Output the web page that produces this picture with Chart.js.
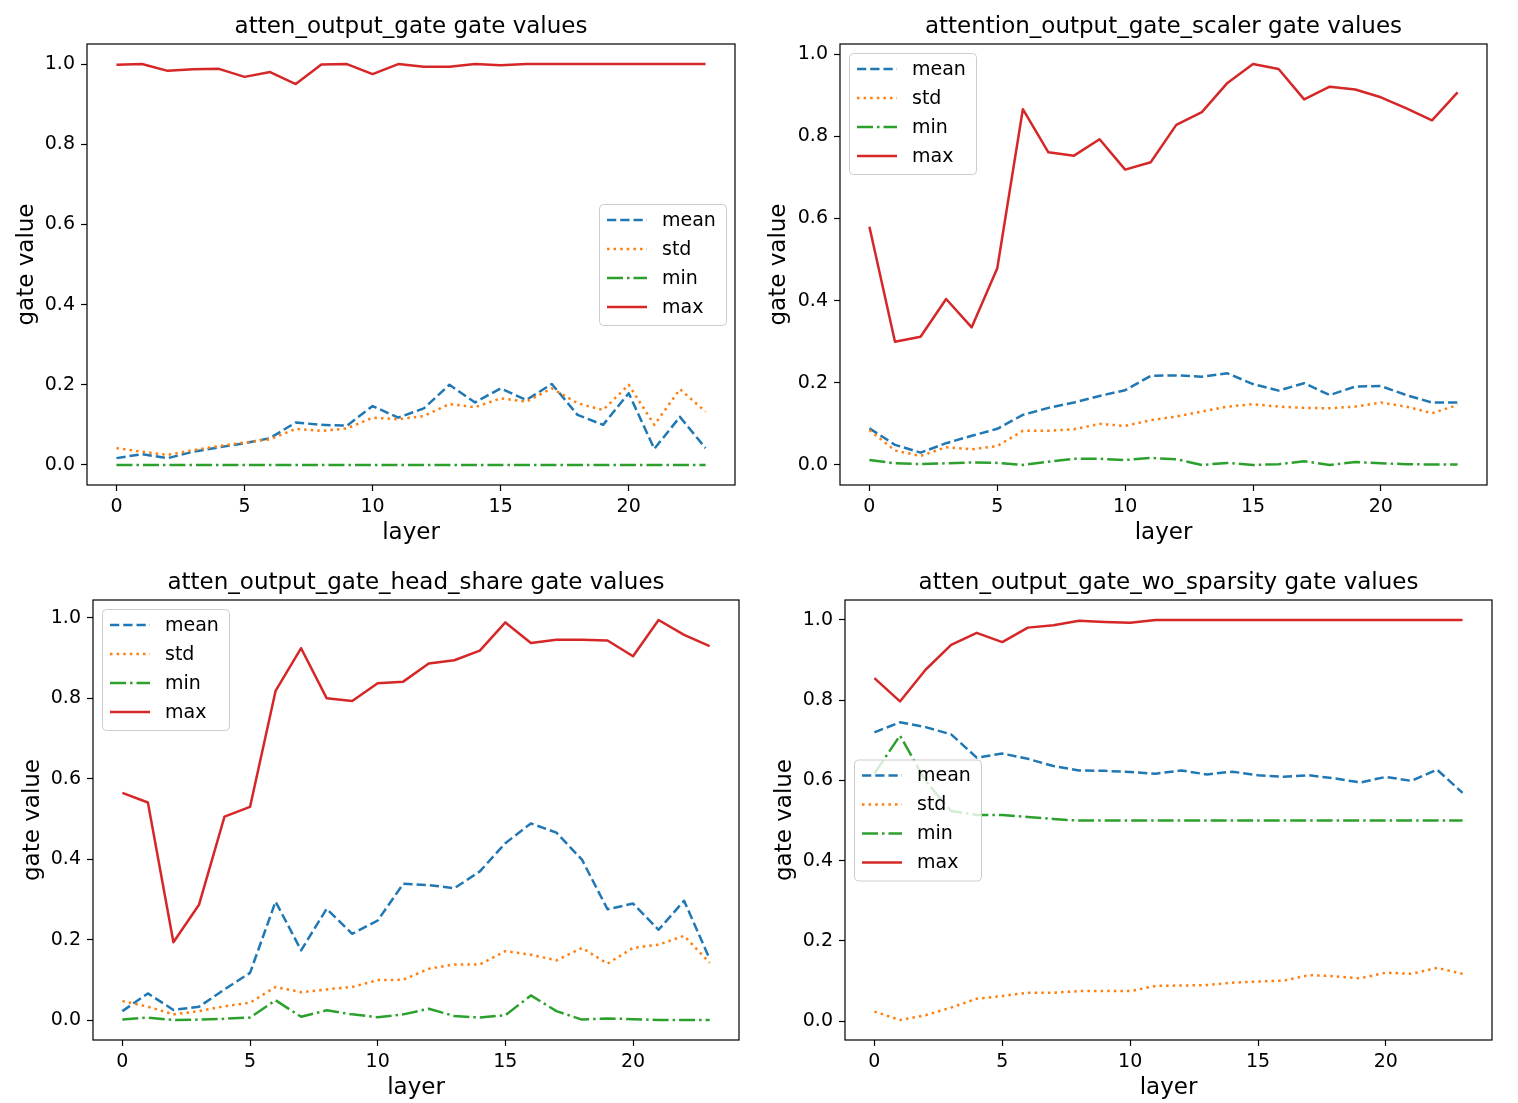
<!DOCTYPE html>
<html><head><meta charset="utf-8">
<script src="https://cdn.jsdelivr.net/npm/chart.js@4.4.0/dist/chart.umd.min.js"></script>
<style>
html,body{margin:0;padding:0;background:#fff;width:1518px;height:1103px;overflow:hidden}
canvas{position:absolute}
</style></head><body>
<canvas id="c1" width="759" height="551" style="left:0px;top:0px"></canvas>
<canvas id="c2" width="759" height="551" style="left:759px;top:0px"></canvas>
<canvas id="c3" width="759" height="552" style="left:0px;top:551px"></canvas>
<canvas id="c4" width="759" height="552" style="left:759px;top:551px"></canvas>
<script>
// ---------- data ----------
const layers = [0,1,2,3,4,5,6,7,8,9,10,11,12,13,14,15,16,17,18,19,20,21,22,23];
const seriesNames = ['mean','std','min','max'];
const xTickValues = [0,5,10,15,20];
const yTickValues = [0,0.2,0.4,0.6,0.8,1.0];

const title1 = 'atten_output_gate gate values';
const mean1 = [0.017,0.027,0.017,0.033,0.044,0.054,0.067,0.106,0.100,0.098,0.147,0.118,0.141,0.200,0.156,0.191,0.162,0.202,0.125,0.100,0.179,0.040,0.120,0.042];
const std1  = [0.042,0.033,0.025,0.037,0.047,0.056,0.064,0.090,0.085,0.091,0.118,0.114,0.122,0.152,0.144,0.166,0.158,0.191,0.154,0.137,0.200,0.100,0.189,0.133];
const min1  = [0,0,0,0,0,0,0,0,0,0,0,0,0,0,0,0,0,0,0,0,0,0,0,0];
const max1  = [0.998,1.0,0.983,0.987,0.988,0.968,0.980,0.950,0.999,1.0,0.975,1.0,0.993,0.993,1.0,0.997,1.0,1.0,1.0,1.0,1.0,1.0,1.0,1.0];

const title2 = 'attention_output_gate_scaler gate values';
const mean2 = [0.089,0.049,0.030,0.053,0.071,0.088,0.122,0.139,0.152,0.168,0.182,0.217,0.218,0.215,0.223,0.197,0.181,0.199,0.170,0.191,0.192,0.170,0.152,0.152];
const std2  = [0.085,0.035,0.022,0.043,0.038,0.046,0.083,0.083,0.087,0.100,0.095,0.109,0.118,0.130,0.142,0.148,0.142,0.139,0.138,0.142,0.152,0.142,0.126,0.146];
const min2  = [0.012,0.004,0.002,0.004,0.006,0.005,0.000,0.008,0.015,0.015,0.012,0.017,0.014,0.000,0.005,0.000,0.002,0.009,0.000,0.007,0.004,0.002,0.001,0.001];
const max2  = [0.580,0.300,0.312,0.404,0.335,0.479,0.866,0.761,0.753,0.793,0.719,0.737,0.828,0.859,0.930,0.976,0.964,0.890,0.921,0.914,0.895,0.868,0.839,0.907];

const title3 = 'atten_output_gate_head_share gate values';
const mean3 = [0.023,0.067,0.026,0.034,0.077,0.118,0.295,0.174,0.277,0.215,0.248,0.339,0.336,0.328,0.370,0.440,0.489,0.466,0.399,0.276,0.290,0.225,0.297,0.153];
const std3  = [0.048,0.034,0.015,0.023,0.035,0.044,0.083,0.070,0.077,0.083,0.100,0.101,0.128,0.139,0.139,0.172,0.163,0.149,0.180,0.141,0.180,0.188,0.210,0.143];
const min3  = [0.002,0.007,0.001,0.002,0.004,0.007,0.050,0.009,0.025,0.015,0.008,0.015,0.029,0.011,0.007,0.013,0.062,0.023,0.002,0.005,0.003,0.001,0.001,0.001];
const max3  = [0.565,0.541,0.194,0.287,0.506,0.530,0.818,0.924,0.800,0.793,0.837,0.841,0.886,0.894,0.918,0.988,0.937,0.945,0.945,0.943,0.904,0.994,0.957,0.929];

const title4 = 'atten_output_gate_wo_sparsity gate values';
const mean4 = [0.720,0.745,0.733,0.715,0.657,0.667,0.654,0.636,0.625,0.624,0.621,0.617,0.625,0.615,0.622,0.613,0.609,0.613,0.605,0.595,0.609,0.599,0.627,0.569];
const std4  = [0.024,0.003,0.015,0.034,0.056,0.063,0.071,0.071,0.075,0.075,0.075,0.088,0.089,0.090,0.096,0.099,0.101,0.115,0.112,0.107,0.121,0.118,0.133,0.118];
const min4  = [0.617,0.712,0.599,0.524,0.514,0.514,0.509,0.504,0.500,0.500,0.500,0.500,0.500,0.500,0.500,0.500,0.500,0.500,0.500,0.500,0.500,0.500,0.500,0.500];
const max4  = [0.855,0.797,0.876,0.938,0.968,0.945,0.981,0.987,0.998,0.995,0.993,1.0,1.0,1.0,1.0,1.0,1.0,1.0,1.0,1.0,1.0,1.0,1.0,1.0];

// ---------- styles ----------
const FONT = 'DejaVu Sans';
const TICK_FS = 19, LABEL_FS = 23;
Chart.defaults.font.family = FONT;
Chart.defaults.font.size = TICK_FS;
Chart.defaults.color = '#000';
const seriesStyle = [
  {color:'#1f77b4', dash:[9.25,4]},
  {color:'#ff7f0e', dash:[2.5,4.1]},
  {color:'#2ca02c', dash:[16,4,2.5,4]},
  {color:'#d62728', dash:[]}
];
const LW = 2.5;

// panel layout (local canvas coordinates)
const panels = [
  {id:'c1', title:title1, series:[mean1,std1,min1,max1], w:759, h:551, plotL:87, plotR:735, plotT:44, plotB:485, titleY:27, ylabX:27, xlabY:533, legend:'center right'},
  {id:'c2', title:title2, series:[mean2,std2,min2,max2], w:759, h:551, plotL:81, plotR:728, plotT:44, plotB:485, titleY:27, ylabX:20, xlabY:533, legend:'upper left'},
  {id:'c3', title:title3, series:[mean3,std3,min3,max3], w:759, h:552, plotL:93, plotR:739, plotT:49, plotB:489, titleY:32, ylabX:33, xlabY:537, legend:'upper left'},
  {id:'c4', title:title4, series:[mean4,std4,min4,max4], w:759, h:552, plotL:86, plotR:733, plotT:49, plotB:489, titleY:32, ylabX:26, xlabY:537, legend:'center left'}
];

const framePlugin = {
  id:'frame',
  afterDatasetsDraw(chart){
    const a = chart.chartArea, ctx = chart.ctx;
    ctx.save();
    ctx.strokeStyle = '#000'; ctx.lineWidth = 1.2;
    ctx.strokeRect(a.left, a.top, a.right - a.left, a.bottom - a.top);
    ctx.restore();
  }
};

function roundRect(ctx, x, y, w, h, r){
  ctx.beginPath();
  ctx.moveTo(x+r, y); ctx.lineTo(x+w-r, y); ctx.arcTo(x+w, y, x+w, y+r, r);
  ctx.lineTo(x+w, y+h-r); ctx.arcTo(x+w, y+h, x+w-r, y+h, r);
  ctx.lineTo(x+r, y+h); ctx.arcTo(x, y+h, x, y+h-r, r);
  ctx.lineTo(x, y+r); ctx.arcTo(x, y, x+r, y, r);
  ctx.closePath();
}

const legendPlugin = {
  id:'mplLegend',
  afterDraw(chart, args, opts){
    const a = chart.chartArea, ctx = chart.ctx;
    const bw = 127, bh = 121, pad = 9;
    let bx, by;
    if (opts.loc === 'center right') { bx = a.right - pad - bw; by = (a.top + a.bottom)/2 - bh/2; }
    else if (opts.loc === 'center left') { bx = a.left + pad; by = (a.top + a.bottom)/2 - bh/2; }
    else { bx = a.left + pad; by = a.top + pad; }
    ctx.save();
    roundRect(ctx, bx+0.5, by+0.5, bw, bh, 4);
    ctx.fillStyle = 'rgba(255,255,255,0.8)'; ctx.fill();
    ctx.strokeStyle = '#cccccc'; ctx.lineWidth = 1; ctx.stroke();
    const rows = [16, 45, 74, 103];
    chart.data.datasets.forEach((ds, i) => {
      const y = by + rows[i];
      ctx.beginPath();
      ctx.setLineDash(seriesStyle[i].dash);
      ctx.lineCap = 'butt';
      ctx.strokeStyle = seriesStyle[i].color; ctx.lineWidth = LW;
      ctx.moveTo(bx + 8, y); ctx.lineTo(bx + 48, y); ctx.stroke();
      ctx.setLineDash([]);
      ctx.fillStyle = '#000'; ctx.font = TICK_FS + 'px "' + FONT + '"';
      ctx.textBaseline = 'middle'; ctx.textAlign = 'left';
      ctx.fillText(ds.label, bx + 63, y + 1);
    });
    ctx.restore();
  }
};

panels.forEach(P => {
  const all = [].concat(...P.series);
  const lo = Math.min(...all), hi = Math.max(...all);
  const m = (hi - lo) * 0.05;
  const xlo = layers[0], xhi = layers[layers.length-1], xm = (xhi - xlo) * 0.05;
  const lh = LABEL_FS * 1.2;
  const datasets = P.series.map((vals, i) => ({
    label: seriesNames[i],
    data: layers.map((x, k) => ({x: x, y: vals[k]})),
    borderColor: seriesStyle[i].color,
    backgroundColor: seriesStyle[i].color,
    borderDash: seriesStyle[i].dash,
    borderWidth: LW,
    borderCapStyle: 'butt',
    borderJoinStyle: 'round',
    pointRadius: 0,
    tension: 0,
    fill: false,
    order: 4 - i
  }));
  const tickGrid = {display:true, drawOnChartArea:false, drawTicks:true, tickLength:6, tickWidth:1.2, tickColor:'#000'};
  new Chart(document.getElementById(P.id), {
    type:'line',
    data:{datasets},
    plugins:[framePlugin, legendPlugin],
    options:{
      responsive:false, animation:false, devicePixelRatio:1,
      layout:{padding:{left:0, right:P.w - P.plotR, top:0, bottom:0}},
      plugins:{
        legend:{display:false}, tooltip:{enabled:false},
        mplLegend:{loc:P.legend},
        title:{display:true, text:P.title, fullSize:false, color:'#000',
          font:{size:LABEL_FS, family:FONT, weight:'normal', lineHeight:1.2},
          padding:{top:P.titleY - lh/2, bottom:P.plotT - (P.titleY - lh/2) - lh}}
      },
      scales:{
        x:{type:'linear', min:xlo - xm, max:xhi + xm,
          afterBuildTicks:s => { s.ticks = xTickValues.map(v => ({value:v})); },
          afterFit:s => { s.height = P.h - P.plotB; },
          ticks:{color:'#000', font:{size:TICK_FS}, padding:5, maxRotation:0, autoSkip:false, callback:v => String(v)},
          grid:tickGrid, border:{display:false},
          title:{display:true, text:'layer', color:'#000', font:{size:LABEL_FS, lineHeight:1.2}, padding:{top:0, bottom:P.h - P.xlabY - lh/2}}
        },
        y:{type:'linear', min:lo - m, max:hi + m,
          afterBuildTicks:s => { s.ticks = yTickValues.map(v => ({value:v})); },
          afterFit:s => { s.width = P.plotL; },
          ticks:{color:'#000', font:{size:TICK_FS}, padding:6, autoSkip:false, callback:v => v.toFixed(1)},
          grid:tickGrid, border:{display:false},
          title:{display:true, text:'gate value', color:'#000', font:{size:LABEL_FS, lineHeight:1.2}, padding:{top:P.ylabX - lh/2, bottom:0}}
        }
      }
    }
  });
});
</script>
</body></html>
